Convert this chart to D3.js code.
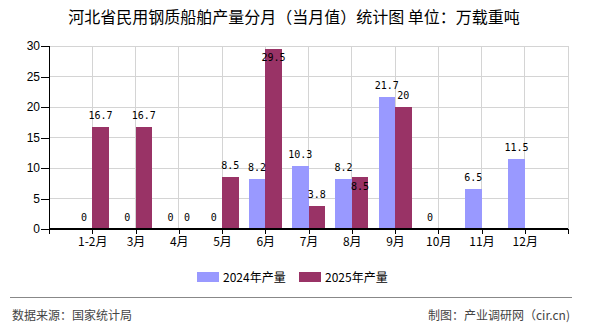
<!DOCTYPE html>
<html><head><meta charset="utf-8">
<script src="https://cdn.jsdelivr.net/npm/d3@7/dist/d3.min.js"></script>
<style>
body{margin:0;background:#fff;}
svg{display:block;}
</style></head>
<body>
<svg id="c" width="590" height="330"></svg>
<script>
const categories = ["1-2月","3月","4月","5月","6月","7月","8月","9月","10月","11月","12月"];
const values2024 = [0,0,0,0,8.2,10.3,8.2,21.7,0,6.5,11.5];
const values2025 = [16.7,16.7,0,8.5,29.5,3.8,8.5,20,null,null,null];
const seriesNames = ["2024年产量","2025年产量"];
const seriesColors = ["#9999FF","#993366"];
const yTicks = [0,5,10,15,20,25,30];
const titleText = "河北省民用钢质船舶产量分月（当月值）统计图 单位：万载重吨";
const sourceText = "数据来源：国家统计局";
const creditText = "制图：产业调研网（cir.cn)";

const svg = d3.select("#c");
const L = 49, R = 568, T = 46, B = 229;
const x = d3.scalePoint().domain(categories).range([L, R]).padding(1);
const y = d3.scaleLinear().domain([0, 30]).range([B, T]);
const bw = 16.5;
const sans = "'Liberation Sans','Noto Sans CJK SC',sans-serif";
const mono = "'DejaVu Sans Mono','Liberation Mono',monospace";

// title
svg.append("text").attr("x", 294).attr("y", 23).attr("text-anchor", "middle")
  .attr("font-family", "'Noto Sans CJK SC',sans-serif").attr("font-size", 16).attr("fill", "#000")
  .text(titleText);

// grid
const g = svg.append("g");
g.selectAll("line.h").data(yTicks.filter(d => d > 0)).enter().append("line")
  .attr("x1", L).attr("x2", R).attr("y1", d => y(d)).attr("y2", d => y(d))
  .attr("stroke", "#d4d4d4").attr("stroke-width", 1).attr("shape-rendering", "crispEdges");
g.selectAll("line.v").data(categories.map(c => x(c)).concat([R])).enter().append("line")
  .attr("x1", d => d).attr("x2", d => d).attr("y1", T).attr("y2", B)
  .attr("stroke", "#d4d4d4").attr("stroke-width", 1).attr("shape-rendering", "crispEdges");

// bars
const series = [values2024, values2025];
series.forEach((vals, si) => {
  svg.append("g").selectAll("rect").data(categories.map((c, i) => ({c, v: vals[i]})).filter(d => d.v != null && d.v > 0))
    .enter().append("rect")
    .attr("x", d => si === 0 ? x(d.c) - bw : x(d.c))
    .attr("width", bw)
    .attr("y", d => y(d.v)).attr("height", d => B - y(d.v))
    .attr("fill", seriesColors[si]).attr("shape-rendering", "crispEdges");
});

// y axis
const yAxis = d3.axisLeft(y).tickValues(yTicks).tickSize(8).tickPadding(1);
const ya = svg.append("g").attr("transform", `translate(${L},0)`).call(yAxis);
ya.select(".domain").remove();
ya.selectAll(".tick line").attr("stroke", "#000").attr("shape-rendering", "crispEdges");
ya.selectAll(".tick text").attr("font-family", sans).attr("font-size", 12).attr("fill", "#000");
svg.append("line").attr("x1", L).attr("x2", L).attr("y1", T).attr("y2", B)
  .attr("stroke", "#000").attr("shape-rendering", "crispEdges");

// x axis
const xAxis = d3.axisBottom(x).tickSize(5).tickPadding(3);
const xa = svg.append("g").attr("transform", `translate(0,${B})`).call(xAxis);
xa.select(".domain").remove();
xa.selectAll(".tick line").attr("stroke", "#000").attr("shape-rendering", "crispEdges");
xa.selectAll(".tick text").attr("font-family", "'Noto Sans CJK SC',sans-serif").attr("font-size", 12).attr("fill", "#000");
svg.append("line").attr("x1", L).attr("x2", R).attr("y1", B).attr("y2", B)
  .attr("stroke", "#000").attr("stroke-width", 1.2).attr("shape-rendering", "crispEdges");
[L, R].forEach(px => svg.append("line").attr("x1", px).attr("x2", px).attr("y1", B).attr("y2", B + 5)
  .attr("stroke", "#000").attr("shape-rendering", "crispEdges"));

// value labels
const lab = svg.append("g").attr("font-family", mono).attr("font-size", 10).attr("fill", "#000").attr("text-anchor", "middle");
categories.forEach((c, i) => {
  const a = values2024[i], b = values2025[i];
  const aBase = a != null ? y(a) - 8 : null;
  if (a != null) lab.append("text").attr("x", x(c) - bw / 2).attr("y", aBase).text(a);
  if (b != null) {
    let base = y(b) - 8;
    if (base - 9 < T) base = y(b) + 12;
    else if (a > 0 && b > 0 && Math.abs(base - aBase) < 8) base = y(b) + 13;
    lab.append("text").attr("x", x(c) + bw / 2).attr("y", base).text(b);
  }
});

// legend
const lg = svg.append("g");
const legendX = [197, 299];
seriesNames.forEach((n, i) => {
  lg.append("rect").attr("x", legendX[i]).attr("y", 272).attr("width", 22).attr("height", 10).attr("fill", seriesColors[i]);
  lg.append("text").attr("x", legendX[i] + 26).attr("y", 282).attr("font-family", "'Noto Sans CJK SC',sans-serif")
    .attr("font-size", 12).attr("fill", "#000").text(n);
});

// footer
svg.append("line").attr("x1", 10).attr("x2", 572).attr("y1", 297.5).attr("y2", 297.5).attr("stroke", "#888").attr("stroke-width", 1);
svg.append("text").attr("x", 12).attr("y", 320).attr("font-family", "'Noto Sans CJK SC',sans-serif").attr("font-size", 12).attr("fill", "#444").text(sourceText);
svg.append("text").attr("x", 570).attr("y", 320).attr("text-anchor", "end").attr("font-family", "'Noto Sans CJK SC',sans-serif").attr("font-size", 12).attr("fill", "#444").text(creditText);
</script>
</body></html>
